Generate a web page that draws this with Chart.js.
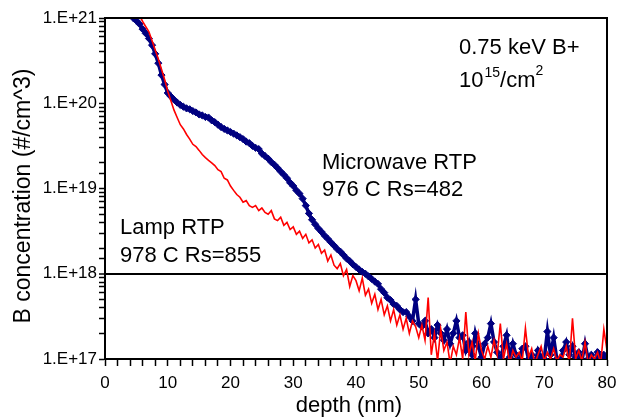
<!DOCTYPE html>
<html>
<head>
<meta charset="utf-8">
<script src="https://cdn.jsdelivr.net/npm/chart.js@4.4.0/dist/chart.umd.min.js"></script>
<style>
  html, body { margin: 0; padding: 0; background: #fff; }
  #wrap { width: 626px; height: 419px; position: relative; }
</style>
</head>
<body>
<div id="wrap"><canvas id="c" width="626" height="419"></canvas></div>
<script>
// depth (nm)
const depth = [
  4,4.5,5,5.5,6,6.5,7,7.5,8,8.5,
  9,9.5,10,10.5,11,11.5,12,12.5,13,13.5,
  14,14.5,15,15.5,16,16.5,17,17.5,18,18.5,
  19,19.5,20,20.5,21,21.5,22,22.5,23,23.5,
  24,24.5,25,25.5,26,26.5,27,27.5,28,28.5,
  29,29.5,30,30.5,31,31.5,32,32.5,33,33.5,
  34,34.5,35,35.5,36,36.5,37,37.5,38,38.5,
  39,39.5,40,40.5,41,41.5,42,42.5,43,43.5,
  44,44.5,45,45.5,46,46.5,47,47.5,48,48.5,
  49,49.5,50,50.5,51,51.5,52,52.5,53,53.5,
  54,54.5,55,55.5,56,56.5,57,57.5,58,58.5,
  59,59.5,60,60.5,61,61.5,62,62.5,63,63.5,
  64,64.5,65,65.5,66,66.5,67,67.5,68,68.5,
  69,69.5,70,70.5,71,71.5,72,72.5,73,73.5,
  74,74.5,75,75.5,76,76.5,77,77.5,78,78.5,
  79,79.5,80
];

// Microwave RTP, 976 C (B concentration, #/cm^3)
const microwaveRTP = [
  1.26e21,1.0e21,9.3e20,8.5e20,7.4e20,6.6e20,5.75e20,4.8e20,3.8e20,2.95e20,
  2.14e20,1.66e20,1.32e20,1.2e20,1.1e20,1.02e20,9.55e19,9.1e19,8.7e19,8.5e19,
  8.1e19,7.8e19,7.4e19,7.2e19,6.9e19,6.8e19,6.3e19,6.0e19,5.6e19,5.25e19,
  5.0e19,4.8e19,4.6e19,4.4e19,4.2e19,4.0e19,3.8e19,3.55e19,3.4e19,3.16e19,
  3.0e19,2.9e19,2.57e19,2.4e19,2.24e19,2.04e19,1.9e19,1.74e19,1.58e19,1.45e19,
  1.32e19,1.17e19,1.07e19,9.5e18,8.7e18,7.6e18,6.3e18,5.1e18,4.3e18,3.8e18,
  3.4e18,3.1e18,2.8e18,2.57e18,2.34e18,2.14e18,1.95e18,1.82e18,1.66e18,1.51e18,
  1.41e18,1.29e18,1.2e18,1.12e18,1.05e18,1.0e18,9.3e17,8.7e17,8.1e17,7.6e17,
  6.6e17,6.0e17,5.25e17,4.9e17,4.4e17,4.2e17,3.8e17,3.55e17,3.55e17,3.16e17,
  2.8e17,5.0e17,2.6e17,2.4e17,2.8e17,2.0e17,2.24e17,1.78e17,2.5e17,2.0e17,
  1.66e17,2.24e17,1.51e17,2.0e17,2.8e17,1.78e17,1.9e17,1.26e17,1.58e17,1.12e17,
  2.0e17,1.41e17,1.05e17,1.51e17,1.78e17,2.6e17,1.58e17,1.2e17,9.5e16,1.41e17,
  1.9e17,1.05e17,1.51e17,1.12e17,8.9e16,1.32e17,1.41e17,1.0e17,1.12e17,8.9e16,
  1.26e17,1.05e17,1.0e17,2.1e17,1.12e17,1.78e17,1.0e17,9.5e16,1.26e17,1.58e17,
  1.12e17,1.41e17,1.05e17,1.2e17,9.5e16,1.51e17,1.0e17,1.12e17,8.9e16,1.2e17,
  1.05e17,1.12e17,1.0e17
];

// Lamp RTP, 978 C (B concentration, #/cm^3)
const lampRTP = [
  2.0e21,1.58e21,1.26e21,1.07e21,9.1e20,7.9e20,6.9e20,5.4e20,4.2e20,3.3e20,
  2.5e20,1.9e20,1.38e20,1.07e20,8.3e19,6.8e19,5.6e19,5.0e19,4.3e19,3.8e19,
  3.3e19,3.1e19,2.8e19,2.5e19,2.3e19,2.14e19,2.0e19,1.86e19,1.66e19,1.58e19,
  1.32e19,1.26e19,1.07e19,9.5e18,8.5e18,7.9e18,6.9e18,7.2e18,6.3e18,6.0e18,
  6.3e18,5.5e18,5.9e18,5.25e18,5.0e18,5.5e18,4.4e18,4.2e18,4.6e18,3.7e18,
  4.0e18,3.3e18,3.55e18,2.9e18,3.16e18,2.6e18,2.9e18,2.3e18,2.5e18,2.0e18,
  2.2e18,1.74e18,1.9e18,1.41e18,1.66e18,1.26e18,1.15e18,1.32e18,9.5e17,1.12e18,
  7.1e17,9.5e17,8.3e17,6.3e17,8.9e17,5.6e17,6.6e17,4.5e17,5.75e17,3.8e17,
  5.0e17,3.3e17,4.2e17,2.8e17,3.8e17,2.5e17,3.3e17,2.24e17,3.0e17,2.0e17,
  2.8e17,2.4e17,1.78e17,2.5e17,1.66e17,5.25e17,1.12e17,2.0e17,9.5e16,2.24e17,
  1.26e17,1.58e17,8.9e16,1.41e17,1.12e17,1.78e17,1.0e17,3.55e17,1.12e17,1.58e17,
  9.5e16,2.0e17,1.26e17,1.0e17,1.41e17,1.05e17,1.66e17,1.12e17,2.6e17,1.0e17,
  1.51e17,8.9e16,1.26e17,1.05e17,1.2e17,9.5e16,2.3e17,1.05e17,1.32e17,8.9e16,
  1.12e17,1.41e17,9.5e16,1.2e17,1.0e17,1.32e17,9.5e16,1.12e17,1.05e17,1.41e17,
  8.9e16,3.0e17,1.0e17,1.26e17,9.5e16,1.58e17,8.9e16,1.12e17,1.0e17,1.2e17,
  8.9e16,2.24e17,1.26e17
];

const yMin = 1e17, yMax = 1e21;
const refLine = 1e18;
const xMin = 0, xMax = 80, xStep = 2, xLabelEvery = 10;
const xTitle = 'depth (nm)';
const yTitle = 'B concentration (#/cm^3)';

const FONT = "'Liberation Sans', Arial, sans-serif";

function isPow10(v) {
  const e = Math.round(Math.log10(v));
  return Math.abs(v - Math.pow(10, e)) < v * 1e-9;
}

const annotations = {
  id: 'annotations',
  afterDraw(chart) {
    const ctx = chart.ctx;
    const a = chart.chartArea;
    ctx.save();
    // top and right frame lines
    ctx.strokeStyle = '#000';
    ctx.lineWidth = 2;
    ctx.beginPath();
    ctx.moveTo(a.left, a.top);
    ctx.lineTo(a.right, a.top);
    ctx.lineTo(a.right, a.bottom);
    ctx.stroke();

    ctx.fillStyle = '#000';
    // axis titles
    ctx.font = '22px ' + FONT;
    ctx.textAlign = 'center';
    ctx.textBaseline = 'middle';
    ctx.fillText(xTitle, 349, 406);
    ctx.save();
    ctx.translate(24, 196);
    ctx.rotate(-Math.PI / 2);
    ctx.font = '23px ' + FONT;
    ctx.fillText(yTitle, 0, 0);
    ctx.restore();

    ctx.textBaseline = 'alphabetic';
    ctx.textAlign = 'left';
    ctx.font = '22px ' + FONT;
    ctx.fillText('0.75 keV B+', 459, 54);
    // 10^15/cm^2
    let x = 459;
    ctx.fillText('10', x, 87);
    x += ctx.measureText('10').width + 1;
    ctx.font = '14px ' + FONT;
    ctx.fillText('15', x, 77);
    x += ctx.measureText('15').width;
    ctx.font = '22px ' + FONT;
    ctx.fillText('/cm', x, 87);
    x += ctx.measureText('/cm').width;
    ctx.font = '14px ' + FONT;
    ctx.fillText('2', x, 75);

    ctx.font = '22px ' + FONT;
    ctx.fillText('Microwave RTP', 322, 169);
    ctx.fillText('976 C Rs=482', 322, 196);
    ctx.fillText('Lamp RTP', 120, 234);
    ctx.fillText('978 C Rs=855', 120, 262);
    ctx.restore();
  }
};

const toXY = (xs, ys) => xs.map((x, i) => ({ x: x, y: ys[i] }));

new Chart(document.getElementById('c'), {
  type: 'line',
  data: {
    datasets: [
      {
        label: 'Lamp RTP',
        data: toXY(depth, lampRTP),
        borderColor: '#FF0000',
        borderWidth: 1.6,
        pointRadius: 0,
        tension: 0,
        clip: 0,
        order: 0
      },
      {
        label: 'Microwave RTP',
        data: toXY(depth, microwaveRTP),
        borderColor: '#000080',
        backgroundColor: '#000080',
        borderWidth: 3.5,
        pointStyle: 'rectRot',
        pointRadius: 3.6,
        pointBorderWidth: 1,
        pointBackgroundColor: '#000080',
        pointBorderColor: '#000080',
        tension: 0,
        clip: 0,
        order: 1
      }
    ]
  },
  options: {
    responsive: false,
    animation: false,
    events: [],
    layout: { padding: { top: 18, right: 19, left: 0, bottom: 0 } },
    plugins: { legend: { display: false }, tooltip: { enabled: false } },
    scales: {
      x: {
        type: 'linear',
        min: xMin, max: xMax,
        afterFit: s => { s.height = 60; },
        ticks: {
          stepSize: xStep,
          autoSkip: false,
          maxRotation: 0,
          padding: 7,
          color: '#000',
          font: { family: FONT, size: 17 },
          callback: v => (v % xLabelEvery === 0 ? String(v) : '')
        },
        grid: {
          drawOnChartArea: false,
          tickLength: 7,
          tickWidth: 1.5,
          tickColor: '#000',
          color: 'rgba(0,0,0,0)'
        },
        border: { display: true, color: '#000', width: 2 },
        title: { display: false }
      },
      y: {
        type: 'logarithmic',
        min: yMin, max: yMax,
        position: 'left',
        afterFit: s => { s.width = 105; },
        ticks: {
          autoSkip: false,
          padding: 2,
          color: '#000',
          font: { family: FONT, size: 17 },
          callback: v => (isPow10(v) ? '1.E+' + Math.round(Math.log10(v)) : '')
        },
        grid: {
          drawOnChartArea: true,
          tickLength: 6,
          tickWidth: 1.5,
          tickColor: '#000',
          color: c => (c.tick && Math.abs(c.tick.value - refLine) < 1 ? '#000' : 'rgba(0,0,0,0)'),
          lineWidth: c => (c.tick && Math.abs(c.tick.value - refLine) < 1 ? 2 : 1)
        },
        border: { display: true, color: '#000', width: 2 },
        title: { display: false }
      }
    }
  },
  plugins: [annotations]
});
</script>
</body>
</html>
